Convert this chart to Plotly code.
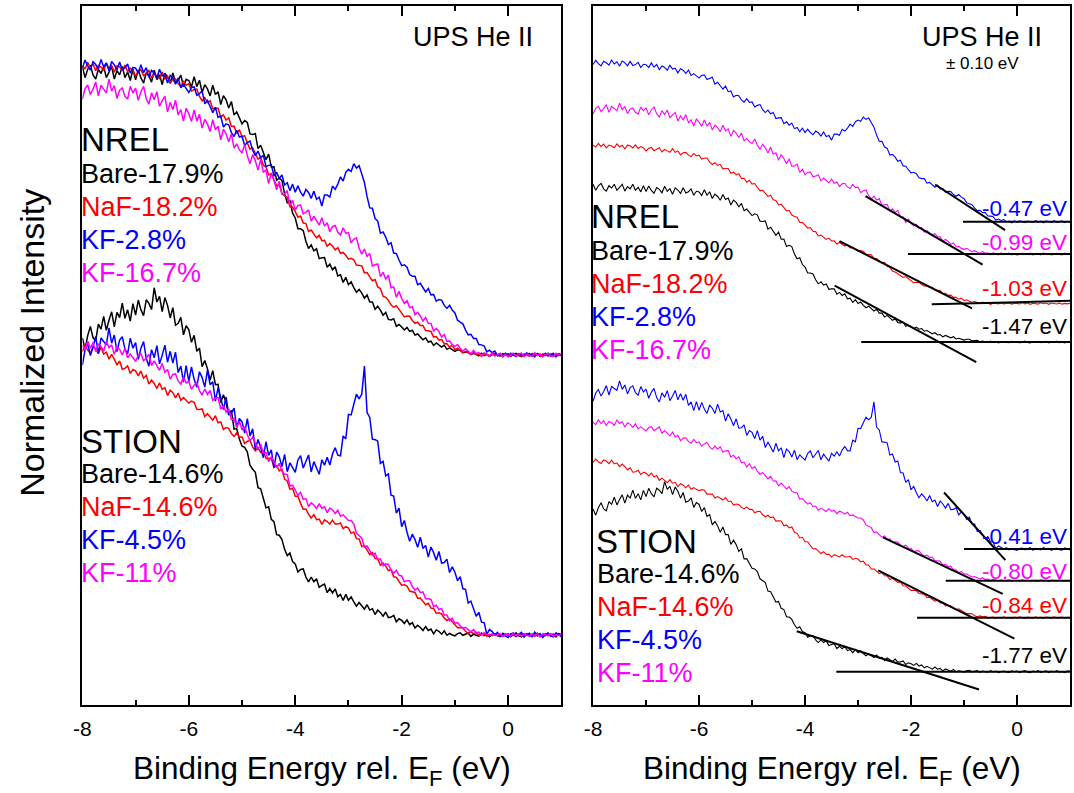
import numpy as np
import plotly.graph_objects as go

W, H = 1074, 793
FONT = "Liberation Sans, Arial, Helvetica, sans-serif"

# Binding energy grid (eV), 0.05 eV sampling from -8 to +1
energy = np.round(np.arange(-160, 21) / 20.0, 2)

# Normalized UPS He II intensities (0 = background above E_F); one row per eV
nrel_bare = [
    1.03, 0.99, 1.02, 1.035, 1.0, 0.985, 1.02, 1.005, 1.03, 0.99, 1.01, 1.03, 0.985, 1.015, 1.0, 1.03, 0.99, 1.01, 0.98, 1.02,
    0.982, 1.018, 0.989, 0.971, 1.008, 0.996, 0.974, 1.017, 0.983, 1.001, 0.965, 1.006, 0.992, 0.97, 1.007, 0.972, 0.981, 0.999, 0.958, 0.984,
    0.98, 0.957, 0.994, 0.958, 0.981, 0.937, 0.965, 0.95, 0.925, 0.963, 0.93, 0.94, 0.894, 0.926, 0.911, 0.882, 0.905, 0.857, 0.868, 0.845,
    0.825, 0.837, 0.83, 0.789, 0.787, 0.79, 0.737, 0.749, 0.723, 0.697, 0.717, 0.671, 0.672, 0.624, 0.631, 0.623, 0.575, 0.543, 0.55, 0.506,
    0.489, 0.451, 0.451, 0.444, 0.406, 0.38, 0.393, 0.372, 0.379, 0.344, 0.347, 0.348, 0.313, 0.324, 0.304, 0.315, 0.282, 0.286, 0.259, 0.277,
    0.251, 0.261, 0.24, 0.224, 0.234, 0.221, 0.203, 0.214, 0.189, 0.189, 0.163, 0.174, 0.16, 0.142, 0.152, 0.127, 0.125, 0.129, 0.102, 0.109,
    0.1, 0.089, 0.098, 0.084, 0.088, 0.071, 0.075, 0.066, 0.054, 0.061, 0.046, 0.049, 0.034, 0.043, 0.037, 0.028, 0.035, 0.02, 0.025, 0.018,
    0.013, 0.018, 0.018, 0.008, 0.01, 0.012, 0.001, 0.006, 0.002, -0.003, 0.006, -0.002, 0.003, -0.005, 0.001, 0.004, -0.002, -0.004, 0.005, 0.0,
    0.004, -0.005, 0.002, 0.006, -0.002, -0.006, 0.003, -0.001, 0.005, -0.004, 0.001, 0.005, -0.005, 0.002, -0.002, 0.006, -0.004, 0.001, -0.006, 0.004,
    0.001]
nrel_naf = [
    1.033, 1.021, 1.045, 1.025, 1.04, 1.015, 1.034, 1.028, 1.016, 1.041, 1.023, 1.033, 1.01, 1.033, 1.029, 1.015, 1.035, 1.012, 1.024, 1.015,
    0.996, 1.013, 1.018, 0.997, 1.006, 1.016, 0.989, 1.005, 0.996, 0.987, 1.01, 0.986, 0.996, 0.97, 0.984, 0.986, 0.968, 0.959, 0.979, 0.963,
    0.968, 0.942, 0.948, 0.949, 0.923, 0.907, 0.919, 0.901, 0.908, 0.879, 0.881, 0.881, 0.85, 0.857, 0.839, 0.847, 0.816, 0.817, 0.791, 0.804,
    0.779, 0.783, 0.757, 0.735, 0.74, 0.721, 0.699, 0.706, 0.677, 0.673, 0.643, 0.648, 0.628, 0.604, 0.608, 0.577, 0.568, 0.563, 0.529, 0.528,
    0.512, 0.492, 0.496, 0.471, 0.469, 0.441, 0.446, 0.434, 0.418, 0.427, 0.408, 0.409, 0.388, 0.398, 0.389, 0.375, 0.383, 0.363, 0.366, 0.356,
    0.342, 0.345, 0.34, 0.321, 0.319, 0.318, 0.293, 0.294, 0.279, 0.265, 0.269, 0.243, 0.237, 0.21, 0.206, 0.195, 0.179, 0.17, 0.176, 0.162,
    0.152, 0.136, 0.139, 0.138, 0.123, 0.113, 0.117, 0.105, 0.105, 0.087, 0.086, 0.084, 0.064, 0.066, 0.053, 0.055, 0.04, 0.04, 0.028, 0.035,
    0.019, 0.024, 0.015, 0.008, 0.013, 0.008, 0.002, 0.009, 0.001, 0.003, -0.005, 0.004, 0.001, -0.003, 0.005, -0.002, 0.0, 0.004, -0.004, 0.002,
    0.001, -0.003, 0.005, -0.002, 0.004, -0.005, 0.002, 0.0, -0.004, 0.005, -0.001, 0.003, -0.005, 0.003, 0.002, -0.003, 0.004, -0.004, 0.001, -0.002,
    0.002]
nrel_kf_low = [
    1.025, 1.053, 1.031, 1.017, 1.047, 1.037, 1.021, 1.055, 1.029, 1.043, 1.015, 1.048, 1.036, 1.017, 1.046, 1.018, 1.025, 1.039, 1.006, 1.027,
    1.024, 1.006, 1.036, 1.008, 1.026, 0.992, 1.016, 1.006, 0.988, 1.02, 0.996, 1.001, 0.971, 0.998, 0.988, 0.967, 0.989, 0.954, 0.966, 0.951,
    0.937, 0.955, 0.957, 0.927, 0.933, 0.943, 0.897, 0.909, 0.887, 0.865, 0.885, 0.848, 0.853, 0.814, 0.825, 0.822, 0.794, 0.78, 0.802, 0.778,
    0.781, 0.748, 0.759, 0.764, 0.731, 0.712, 0.728, 0.704, 0.713, 0.673, 0.677, 0.679, 0.639, 0.652, 0.63, 0.643, 0.607, 0.615, 0.586, 0.61,
    0.581, 0.604, 0.581, 0.567, 0.591, 0.58, 0.559, 0.585, 0.556, 0.563, 0.532, 0.571, 0.571, 0.564, 0.603, 0.591, 0.61, 0.636, 0.621, 0.652,
    0.663, 0.655, 0.683, 0.667, 0.676, 0.641, 0.616, 0.565, 0.525, 0.524, 0.487, 0.478, 0.435, 0.439, 0.421, 0.394, 0.401, 0.364, 0.362, 0.339,
    0.319, 0.322, 0.313, 0.287, 0.281, 0.281, 0.251, 0.256, 0.241, 0.225, 0.237, 0.214, 0.216, 0.192, 0.198, 0.196, 0.177, 0.166, 0.177, 0.16,
    0.15, 0.124, 0.117, 0.111, 0.089, 0.072, 0.074, 0.059, 0.059, 0.037, 0.036, 0.032, 0.011, 0.017, 0.008, 0.014, -0.002, 0.004, -0.007, 0.006,
    -0.004, 0.006, -0.001, -0.006, 0.004, 0.001, -0.005, 0.007, -0.002, 0.003, -0.007, 0.005, 0.001, -0.004, 0.006, -0.003, 0.0, 0.006, -0.006, 0.002,
    -0.002]
nrel_kf_high = [
    0.913, 0.951, 0.964, 0.93, 0.949, 0.975, 0.925, 0.963, 0.949, 0.936, 0.985, 0.942, 0.962, 0.916, 0.945, 0.953, 0.923, 0.914, 0.959, 0.935,
    0.953, 0.909, 0.94, 0.959, 0.915, 0.895, 0.936, 0.911, 0.94, 0.888, 0.908, 0.924, 0.868, 0.902, 0.876, 0.91, 0.857, 0.876, 0.835, 0.881,
    0.861, 0.834, 0.875, 0.835, 0.859, 0.81, 0.841, 0.825, 0.798, 0.84, 0.804, 0.817, 0.768, 0.806, 0.79, 0.761, 0.789, 0.739, 0.754, 0.732,
    0.721, 0.751, 0.711, 0.683, 0.716, 0.693, 0.66, 0.698, 0.652, 0.661, 0.612, 0.649, 0.624, 0.59, 0.621, 0.574, 0.575, 0.587, 0.533, 0.553,
    0.517, 0.534, 0.535, 0.504, 0.509, 0.518, 0.478, 0.496, 0.48, 0.464, 0.49, 0.46, 0.472, 0.44, 0.458, 0.462, 0.438, 0.428, 0.454, 0.434,
    0.437, 0.4, 0.413, 0.418, 0.381, 0.36, 0.378, 0.352, 0.362, 0.318, 0.322, 0.325, 0.28, 0.295, 0.27, 0.285, 0.24, 0.243, 0.206, 0.227,
    0.202, 0.184, 0.194, 0.169, 0.172, 0.144, 0.152, 0.139, 0.121, 0.134, 0.113, 0.112, 0.085, 0.095, 0.083, 0.064, 0.073, 0.048, 0.05, 0.037,
    0.031, 0.037, 0.024, 0.014, 0.022, 0.013, 0.004, 0.016, 0.005, 0.008, -0.005, 0.008, 0.003, -0.005, 0.007, -0.003, 0.0, 0.006, -0.006, 0.002,
    -0.007, 0.002, 0.006, -0.004, 0.001, 0.007, -0.006, 0.003, -0.001, -0.005, 0.008, -0.002, 0.004, -0.007, 0.002, 0.005, -0.003, -0.006, 0.006, 0.0,
    0.003]

stion_bare = [
    1.061, 1.021, 1.069, 1.102, 1.062, 1.05, 1.11, 1.092, 1.138, 1.088, 1.124, 1.154, 1.1, 1.152, 1.133, 1.185, 1.131, 1.161, 1.121, 1.183,
    1.142, 1.196, 1.161, 1.14, 1.197, 1.184, 1.162, 1.24, 1.189, 1.209, 1.155, 1.205, 1.177, 1.132, 1.169, 1.106, 1.113, 1.134, 1.072, 1.104,
    1.091, 1.045, 1.07, 1.013, 1.024, 0.958, 0.98, 0.951, 0.91, 0.944, 0.894, 0.895, 0.83, 0.858, 0.829, 0.785, 0.802, 0.735, 0.737, 0.7,
    0.674, 0.67, 0.653, 0.606, 0.592, 0.581, 0.526, 0.522, 0.488, 0.454, 0.458, 0.413, 0.405, 0.358, 0.356, 0.341, 0.306, 0.283, 0.293, 0.262,
    0.254, 0.225, 0.234, 0.236, 0.207, 0.19, 0.207, 0.19, 0.201, 0.17, 0.177, 0.182, 0.151, 0.166, 0.15, 0.165, 0.137, 0.145, 0.123, 0.145,
    0.124, 0.136, 0.118, 0.103, 0.116, 0.105, 0.092, 0.108, 0.089, 0.094, 0.073, 0.089, 0.08, 0.067, 0.082, 0.062, 0.064, 0.07, 0.047, 0.058,
    0.052, 0.041, 0.054, 0.037, 0.044, 0.025, 0.035, 0.027, 0.016, 0.03, 0.016, 0.021, 0.004, 0.018, 0.013, 0.003, 0.015, -0.001, 0.006, 0.0,
    -0.003, 0.005, 0.008, -0.001, 0.003, 0.007, -0.005, 0.003, -0.001, -0.004, 0.007, -0.002, 0.004, -0.006, 0.001, 0.004, -0.002, -0.005, 0.006, 0.0,
    0.004, -0.006, 0.002, 0.007, -0.003, -0.007, 0.004, -0.001, 0.006, -0.005, 0.001, 0.006, -0.006, 0.003, -0.002, 0.007, -0.004, 0.001, -0.007, 0.005,
    0.002]
stion_naf = [
    1.012, 1.034, 1.017, 1.006, 1.029, 1.022, 1.005, 1.027, 1.003, 1.01, 0.985, 1.002, 0.985, 0.964, 0.978, 0.949, 0.952, 0.961, 0.934, 0.948,
    0.943, 0.925, 0.943, 0.917, 0.927, 0.896, 0.91, 0.898, 0.88, 0.9, 0.877, 0.883, 0.855, 0.874, 0.865, 0.847, 0.864, 0.838, 0.848, 0.837,
    0.828, 0.835, 0.831, 0.806, 0.805, 0.807, 0.78, 0.79, 0.779, 0.767, 0.783, 0.758, 0.761, 0.734, 0.741, 0.738, 0.719, 0.709, 0.722, 0.706,
    0.707, 0.684, 0.692, 0.694, 0.671, 0.658, 0.668, 0.652, 0.657, 0.63, 0.631, 0.63, 0.599, 0.605, 0.586, 0.592, 0.557, 0.55, 0.52, 0.524,
    0.495, 0.495, 0.47, 0.449, 0.45, 0.431, 0.418, 0.43, 0.412, 0.414, 0.395, 0.411, 0.405, 0.396, 0.41, 0.396, 0.396, 0.4, 0.38, 0.387,
    0.382, 0.363, 0.368, 0.344, 0.343, 0.316, 0.319, 0.305, 0.287, 0.294, 0.273, 0.272, 0.249, 0.257, 0.246, 0.23, 0.233, 0.208, 0.206, 0.191,
    0.178, 0.179, 0.175, 0.157, 0.154, 0.152, 0.131, 0.132, 0.12, 0.108, 0.113, 0.096, 0.095, 0.077, 0.079, 0.075, 0.061, 0.052, 0.058, 0.046,
    0.038, 0.026, 0.027, 0.025, 0.013, 0.005, 0.011, 0.005, 0.009, -0.002, 0.001, 0.004, -0.005, 0.002, -0.002, 0.005, -0.003, 0.001, -0.005, 0.004,
    -0.003, 0.005, -0.001, -0.005, 0.003, 0.001, -0.004, 0.005, -0.002, 0.002, -0.005, 0.004, 0.001, -0.003, 0.005, -0.002, 0.0, 0.004, -0.004, 0.002,
    0.0]
stion_kf_low = [
    0.964, 1.018, 1.04, 0.998, 1.028, 1.066, 1.005, 1.061, 1.048, 1.036, 1.097, 1.042, 1.071, 1.012, 1.053, 1.065, 1.021, 1.004, 1.06, 1.024,
    1.044, 0.984, 1.024, 1.048, 0.988, 0.96, 1.019, 0.99, 1.033, 0.968, 0.999, 1.035, 0.974, 1.013, 0.971, 1.01, 0.937, 0.96, 0.903, 0.962,
    0.906, 0.957, 0.913, 0.885, 0.94, 0.919, 0.885, 0.946, 0.894, 0.904, 0.835, 0.883, 0.848, 0.805, 0.85, 0.789, 0.792, 0.81, 0.741, 0.773,
    0.761, 0.721, 0.773, 0.711, 0.736, 0.662, 0.698, 0.67, 0.633, 0.69, 0.641, 0.661, 0.597, 0.653, 0.636, 0.601, 0.645, 0.583, 0.615, 0.597,
    0.581, 0.625, 0.64, 0.596, 0.617, 0.643, 0.582, 0.619, 0.596, 0.574, 0.625, 0.606, 0.635, 0.607, 0.646, 0.669, 0.642, 0.64, 0.711, 0.70,
    0.788, 0.786, 0.824, 0.86, 0.843, 0.86, 0.96, 0.794, 0.777, 0.699, 0.698, 0.692, 0.613, 0.62, 0.568, 0.575, 0.499, 0.496, 0.435, 0.453,
    0.387, 0.409, 0.367, 0.335, 0.36, 0.341, 0.313, 0.349, 0.309, 0.32, 0.278, 0.314, 0.294, 0.267, 0.298, 0.257, 0.259, 0.271, 0.223, 0.243,
    0.224, 0.194, 0.208, 0.165, 0.163, 0.114, 0.121, 0.097, 0.067, 0.081, 0.046, 0.044, 0.002, 0.02, 0.012, 0.0, 0.009, -0.006, 0.001, -0.004,
    -0.009, 0.003, 0.007, -0.005, 0.001, 0.009, -0.008, 0.004, -0.001, -0.006, 0.01, -0.003, 0.005, -0.009, 0.002, 0.006, -0.004, -0.007, 0.008, 0.0,
    -0.006]
stion_kf_high = [
    1.034, 1.018, 1.05, 1.024, 1.044, 1.012, 1.038, 1.03, 1.014, 1.048, 1.026, 1.036, 1.002, 1.03, 1.02, 1.0, 1.023, 0.99, 1.003, 0.99,
    0.977, 0.999, 1.005, 0.979, 0.989, 1.003, 0.962, 0.979, 0.962, 0.945, 0.97, 0.938, 0.948, 0.914, 0.93, 0.932, 0.907, 0.896, 0.921, 0.9,
    0.906, 0.877, 0.892, 0.901, 0.872, 0.857, 0.878, 0.859, 0.873, 0.838, 0.847, 0.848, 0.807, 0.819, 0.796, 0.808, 0.769, 0.774, 0.742, 0.763,
    0.732, 0.743, 0.715, 0.693, 0.706, 0.687, 0.664, 0.681, 0.65, 0.651, 0.619, 0.637, 0.62, 0.598, 0.613, 0.584, 0.575, 0.573, 0.532, 0.535,
    0.517, 0.499, 0.509, 0.484, 0.487, 0.459, 0.472, 0.464, 0.451, 0.469, 0.453, 0.458, 0.437, 0.453, 0.447, 0.434, 0.446, 0.424, 0.429, 0.419,
    0.409, 0.409, 0.396, 0.364, 0.353, 0.346, 0.314, 0.318, 0.301, 0.284, 0.292, 0.269, 0.272, 0.248, 0.254, 0.252, 0.232, 0.221, 0.231, 0.213,
    0.211, 0.19, 0.194, 0.194, 0.173, 0.16, 0.167, 0.151, 0.154, 0.129, 0.129, 0.127, 0.102, 0.106, 0.091, 0.095, 0.071, 0.071, 0.051, 0.06,
    0.042, 0.044, 0.033, 0.023, 0.027, 0.019, 0.011, 0.019, 0.008, 0.01, -0.001, 0.008, 0.004, -0.002, 0.005, -0.002, 0.0, 0.005, -0.005, 0.002,
    0.001, -0.004, 0.006, -0.002, 0.004, -0.005, 0.002, 0.0, -0.005, 0.005, -0.001, 0.003, -0.006, 0.004, 0.002, -0.003, 0.005, -0.004, 0.001, -0.002,
    0.002]

# Sample labels and colours
nrel_labels = ["Bare-17.9%", "NaF-18.2%", "KF-2.8%", "KF-16.7%"]
stion_labels = ["Bare-14.6%", "NaF-14.6%", "KF-4.5%", "KF-11%"]
colours = ["#000000", "#ff0000", "#0000ff", "#ff00ff"]

# Stacked (right) panel: baseline of each spectrum and the valence band edge fits
nrel_stack_base = [2.297, 2.541, 3.059, 2.854]
stion_stack_base = [0.211, 0.553, 0.987, 0.787]
stack_scale = 0.97

nrel_edge = [-1.47, -1.03, -0.47, -0.99]          # eV, leading-edge intercepts
stion_edge = [-1.77, -0.84, -0.41, -0.80]
nrel_edge_slope = [0.181, 0.170, 0.219, 0.196]    # intensity per eV
stion_edge_slope = [0.107, 0.168, 0.370, 0.158]
nrel_edge_span = [(-3.44, -0.77), (-3.35, -0.85), (-1.545, -0.226), (-2.86, -0.65)]
stion_edge_span = [(-4.157, -0.718), (-2.62, -0.05), (-1.377, -0.22), (-2.53, -0.27)]
nrel_bg_start = [-2.94, -1.61, -1.02, -2.06]
stion_bg_start = [-3.41, -1.886, -1.0, -1.345]
nrel_bg_tilt = [0.0, 0.0084, 0.0, 0.0]
stion_bg_tilt = [0.0, 0.0, 0.0, 0.0]

nrel_spectra = [nrel_bare, nrel_naf, nrel_kf_low, nrel_kf_high]
stion_spectra = [stion_bare, stion_naf, stion_kf_low, stion_kf_high]

fig = go.Figure()

# ---- left panel: normalized spectra, NREL shifted up by one unit ----
for offset, spectra in ((1.0, nrel_spectra), (0.0, stion_spectra)):
    for colour, vals in zip(colours, spectra):
        fig.add_trace(go.Scatter(
            x=energy, y=np.array(vals) + offset, mode="lines",
            line=dict(color=colour, width=1.5),
            xaxis="x", yaxis="y", showlegend=False, hoverinfo="skip"))

# ---- right panel: stacked spectra with linear edge extrapolation ----
groups = [
    (nrel_spectra, nrel_stack_base, nrel_edge, nrel_edge_slope, nrel_edge_span, nrel_bg_start, nrel_bg_tilt),
    (stion_spectra, stion_stack_base, stion_edge, stion_edge_slope, stion_edge_span, stion_bg_start, stion_bg_tilt),
]
for spectra, bases, edges, slopes, spans, bg0, tilts in groups:
    for colour, vals, base in zip(colours, spectra, bases):
        fig.add_trace(go.Scatter(
            x=energy, y=base + stack_scale * np.array(vals), mode="lines",
            line=dict(color=colour, width=1.1),
            xaxis="x2", yaxis="y2", showlegend=False, hoverinfo="skip"))
for spectra, bases, edges, slopes, spans, bg0, tilts in groups:
    for base, e0, s, (ea, eb), eg, t in zip(bases, edges, slopes, spans, bg0, tilts):
        xs = [ea, eb, None, eg, 1.0]
        ys = [base + s * (e0 - ea), base + s * (e0 - eb), None,
              base + t * (eg - e0), base + t * (1.0 - e0)]
        fig.add_trace(go.Scatter(
            x=xs, y=ys, mode="lines", line=dict(color="black", width=2),
            xaxis="x2", yaxis="y2", showlegend=False, hoverinfo="skip"))


def px(x):
    return x / W


def py(y):
    return 1 - y / H


tick_vals = [-8, -6, -4, -2, 0]
x_common = dict(
    range=[-8, 1], tickmode="array", tickvals=tick_vals,
    ticktext=[str(v) for v in tick_vals],
    ticks="inside", ticklen=10, tickwidth=1.5, tickcolor="black",
    minor=dict(ticks="inside", ticklen=5, tickwidth=1.5, tickcolor="black",
               tickmode="array", tickvals=[-7, -5, -3, -1], showgrid=False),
    showline=True, linewidth=2, linecolor="black", mirror="ticks",
    showgrid=False, zeroline=False, ticklabelstandoff=4,
    tickfont=dict(family=FONT, size=21, color="black"),
)
y_common = dict(showticklabels=False, ticks="", showline=True, linewidth=2,
                linecolor="black", mirror=True, showgrid=False, zeroline=False)

y_dom = [py(705), py(6)]
fig.update_layout(
    width=W, height=H, margin=dict(l=0, r=0, t=0, b=0),
    paper_bgcolor="white", plot_bgcolor="white",
    font=dict(family=FONT, color="black"),
    xaxis=dict(domain=[px(74), px(557)], anchor="y", **x_common),
    yaxis=dict(domain=y_dom, range=[-0.25, 2.246], anchor="x", **y_common),
    xaxis2=dict(domain=[px(589), px(1070)], anchor="y2", **x_common),
    yaxis2=dict(domain=y_dom, range=[0, 4.424], anchor="x2", **y_common),
)

annotations = []


def label(text, x, y, size, colour="black", xanchor="left", angle=0):
    annotations.append(dict(
        text=text, x=px(x), y=py(y), xref="paper", yref="paper",
        xanchor=xanchor, yanchor="middle", showarrow=False, textangle=angle,
        font=dict(family=FONT, size=size, color=colour)))


# axis titles
xtitle = "Binding Energy rel. E<sub>F</sub> (eV)"
label(xtitle, 315.5, 770, 31.5, xanchor="center")
label(xtitle, 829.5, 770, 31.5, xanchor="center")
label("Normalized Intensity", 23, 343, 34, xanchor="center", angle=-90)

# panel headers
label("UPS He II", 467.5, 37, 27, xanchor="center")
label("UPS He II", 981, 37, 27, xanchor="center")
label("± 0.10 eV", 982, 63, 17, xanchor="center")

# sample legends
for (hx, hy), (ex, ey0), head, names in (
        ((71, 139), (71, 174), "NREL", nrel_labels),
        ((71, 441), (71, 474), "STION", stion_labels),
        ((585, 217), (585, 251), "NREL", nrel_labels),
        ((590, 541), (591, 574), "STION", stion_labels)):
    label(head, hx, hy, 33)
    for i, (name, colour) in enumerate(zip(names, colours)):
        label(name, ex, ey0 + 33 * i, 27, colour)

# edge values on the stacked panel
edge_label_y = {(-1.47): 326, (-1.03): 288, (-0.47): 208, (-0.99): 243,
                (-1.77): 655, (-0.84): 605, (-0.41): 536, (-0.80): 571}
for edges in (nrel_edge, stion_edge):
    for e0, colour in zip(edges, colours):
        label(f"{e0:.2f} eV", 1069, edge_label_y[e0], 22.5, colour, xanchor="right")

fig.update_layout(annotations=annotations)
fig.write_html("out.html")
